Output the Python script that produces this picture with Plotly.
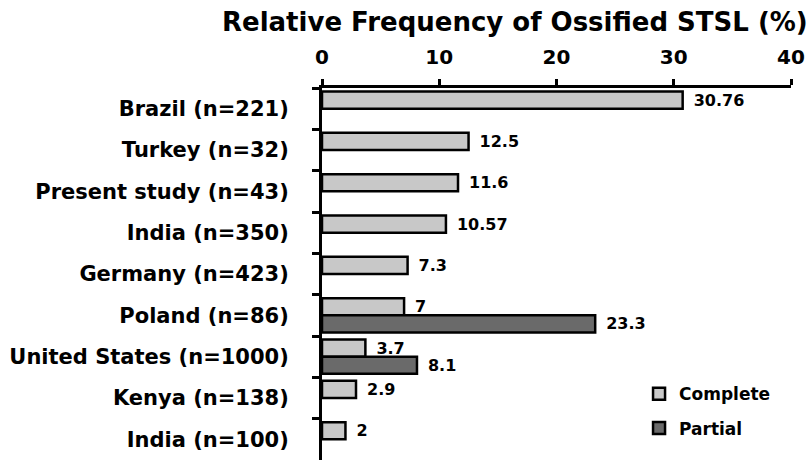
import plotly.graph_objects as go

categories = ["Brazil (n=221)", "Turkey (n=32)", "Present study (n=43)", "India (n=350)",
              "Germany (n=423)", "Poland (n=86)", "United States (n=1000)", "Kenya (n=138)",
              "India (n=100)"]
complete = [30.76, 12.5, 11.6, 10.57, 7.3, 7, 3.7, 2.9, 2]
partial = [None, None, None, None, None, 23.3, 8.1, None, None]
partial_text = ["" if v is None else "\u2002" + str(v) for v in partial]
complete_text = ["\u2002" + str(v) for v in complete]
x_ticks = [0, 10, 20, 30, 40]

FONT = "DejaVu Sans"

fig = go.Figure()
fig.add_trace(go.Bar(
    y=categories, x=complete, orientation="h", name="Complete", legendgroup="c",
    marker=dict(color="#c8c8c8", line=dict(color="black", width=2.5)),
    text=complete_text, textposition="outside", cliponaxis=False, constraintext="none",
    textfont=dict(family=FONT, size=16, color="black", weight="bold"),
))
fig.add_trace(go.Bar(
    y=categories, x=partial, orientation="h", name="Partial", legendgroup="p",
    marker=dict(color="#6a6a6a", line=dict(color="black", width=2.5)),
    text=partial_text, textposition="outside", cliponaxis=False, constraintext="none",
    textfont=dict(family=FONT, size=16, color="black", weight="bold"),
))

fig.update_layout(
    width=809, height=463,
    margin=dict(l=322, r=18, t=88, b=3),
    barmode="group", bargap=0.17, bargroupgap=0,
    plot_bgcolor="white", paper_bgcolor="white",
    font=dict(family=FONT, color="black"),
    showlegend=True,
    legend=dict(x=0.676, y=0.225, xanchor="left", yanchor="top",
                traceorder="grouped", tracegroupgap=9,
                font=dict(family=FONT, size=17, weight="bold"),
                bgcolor="rgba(0,0,0,0)"),
    annotations=[dict(
        text="<b>Relative Frequency of Ossified STSL (%)</b>",
        x=(515 - 322) / (791 - 322), xref="paper", y=1, yref="paper",
        xanchor="center", yanchor="middle", yshift=66, showarrow=False,
        font=dict(family=FONT, size=26, color="black"),
    )],
)

fig.update_xaxes(
    side="top", range=[0, 40], tickvals=x_ticks, ticktext=[str(v) for v in x_ticks],
    showline=True, linecolor="black", linewidth=3, mirror=False,
    ticks="outside", ticklen=6, tickwidth=2.5, tickcolor="black",
    tickfont=dict(family=FONT, size=20, weight="bold"), ticklabelstandoff=7,
    showgrid=False, zeroline=False, automargin=False,
)
fig.update_yaxes(
    categoryorder="array", categoryarray=categories, autorange="reversed",
    showline=True, linecolor="black", linewidth=3,
    ticks="outside", tickson="boundaries", ticklen=7, tickwidth=2.5, tickcolor="black",
    tickfont=dict(family=FONT, size=21, weight="bold"), ticklabelstandoff=26,
    showgrid=False, zeroline=False, automargin=False,
)

fig.write_html("out.html",
               config={"displayModeBar": False},
               post_script="document.body.style.margin='0';document.body.style.overflow='hidden';")
